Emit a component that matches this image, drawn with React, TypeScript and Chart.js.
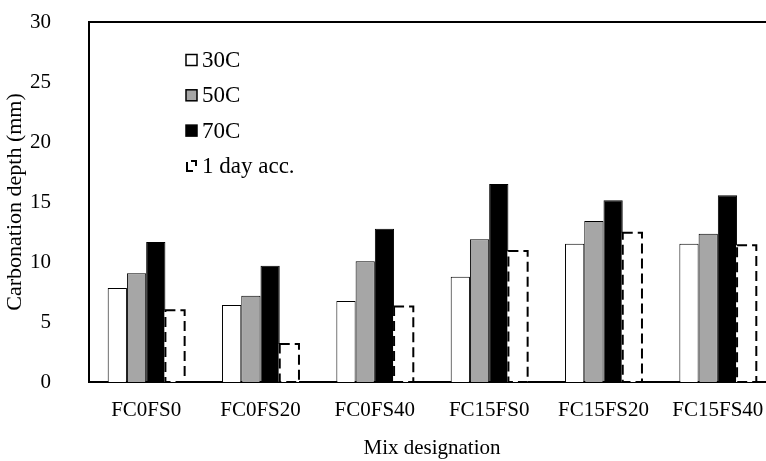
import React, { useEffect, useRef } from "react";
import { Chart, registerables } from "chart.js";

Chart.register(...registerables);

const categories = ["FC0FS0", "FC0FS20", "FC0FS40", "FC15FS0", "FC15FS20", "FC15FS40"];
const seriesLabels = ["30C", "50C", "70C", "1 day acc."];
const values30C = [7.83, 6.42, 6.75, 8.78, 11.53, 11.53];
const values50C = [9.06, 7.19, 10.06, 11.89, 13.42, 12.36];
const values70C = [11.67, 9.69, 12.78, 16.5, 15.14, 15.56];
const values1Day = [5.97, 3.17, 6.3, 10.92, 12.44, 11.39];
const yMin = 0;
const yMax = 30;
const yStep = 5;

const FONT = "'Liberation Serif', 'Times New Roman', serif";

const dashedBarsPlugin = {
  id: "dashedBars",
  afterDatasetsDraw(chart: any) {
    const ctx = chart.ctx;
    const meta = chart.getDatasetMeta(3);
    ctx.save();
    meta.data.forEach((bar: any) => {
      const { x, y, base, width } = bar.getProps(["x", "y", "base", "width"], true);
      const l = x - width / 2;
      const r = x + width / 2;
      ctx.fillStyle = "#ffffff";
      ctx.fillRect(l - 1, y, r - l + 1, base - y);
      ctx.beginPath();
      ctx.setLineDash([10, 5]);
      ctx.lineWidth = 2;
      ctx.strokeStyle = "#000000";
      ctx.moveTo(l, y);
      ctx.lineTo(r, y);
      ctx.lineTo(r, base);
      ctx.lineTo(l, base);
      ctx.closePath();
      ctx.stroke();
    });
    ctx.restore();
  },
};

const legendPlugin = {
  id: "customLegend",
  afterDraw(chart: any) {
    const ctx = chart.ctx;
    const area = chart.chartArea;
    const bx = area.left + 97;
    const y0 = area.top + 38;
    const gap = 35.3;
    ctx.save();
    ctx.font = "23px " + FONT;
    ctx.textBaseline = "middle";
    ctx.textAlign = "left";
    chart.data.datasets.forEach((ds: any, i: number) => {
      const cy = y0 + i * gap;
      const s = 11;
      if (i < 3) {
        ctx.fillStyle = ds.backgroundColor;
        ctx.fillRect(bx, cy - s / 2, s, s);
        ctx.lineWidth = 1.5;
        ctx.strokeStyle = "#000";
        ctx.strokeRect(bx, cy - s / 2, s, s);
      } else {
        ctx.lineWidth = 2;
        ctx.strokeStyle = "#000";
        ctx.beginPath();
        ctx.moveTo(bx + 1, cy - 4);
        ctx.lineTo(bx + 1, cy + 5);
        ctx.lineTo(bx + 7, cy + 5);
        ctx.moveTo(bx + 5, cy - 5);
        ctx.lineTo(bx + 10, cy - 5);
        ctx.lineTo(bx + 10, cy);
        ctx.stroke();
      }
      ctx.fillStyle = "#000";
      ctx.fillText(ds.label, bx + 16, cy + 1);
    });
    ctx.restore();
  },
};

function App() {
  const ref = useRef<HTMLCanvasElement | null>(null);
  useEffect(() => {
    if (!ref.current) return;
    const chart = new Chart(ref.current, {
      type: "bar",
      data: {
        labels: categories,
        datasets: [
          { label: seriesLabels[0], data: values30C, backgroundColor: "#ffffff", borderColor: "#000000", borderWidth: 1 },
          { label: seriesLabels[1], data: values50C, backgroundColor: "#a6a6a6", borderColor: "#000000", borderWidth: 1 },
          { label: seriesLabels[2], data: values70C, backgroundColor: "#000000", borderColor: "#000000", borderWidth: 1 },
          { label: seriesLabels[3], data: values1Day, backgroundColor: "#ffffff", borderColor: "#000000", borderWidth: 0 },
        ],
      },
      options: {
        animation: false,
        responsive: false,
        devicePixelRatio: 1,
        layout: { padding: { top: 22, right: 25, bottom: 0, left: 0 } },
        datasets: { bar: { categoryPercentage: 0.673, barPercentage: 1 } },
        plugins: { legend: { display: false }, tooltip: { enabled: false } },
        scales: {
          x: {
            grid: { display: false, drawTicks: false },
            border: { display: true, color: "#000", width: 2 },
            ticks: { color: "#000", font: { family: FONT, size: 21 }, padding: 16, maxRotation: 0, autoSkip: false },
            title: { display: true, text: "Mix designation", color: "#000", font: { family: FONT, size: 21 }, padding: { top: 0, bottom: 0 } },
            afterFit: (s: any) => { s.height = 79; s.paddingLeft = 0; s.paddingRight = 0; },
          },
          y: {
            min: yMin,
            max: yMax,
            grid: { display: false, drawTicks: false },
            border: { display: true, color: "#000", width: 2 },
            ticks: { stepSize: yStep, color: "#000", font: { family: FONT, size: 21 }, padding: 38 },
            title: { display: true, text: "Carbonation depth (mm)", color: "#000", font: { family: FONT, size: 22 }, padding: { top: 2, bottom: 0 } },
            afterFit: (s: any) => { s.width = 89; s.paddingTop = 0; s.paddingBottom = 0; },
          },
        },
      } as any,
      plugins: [
        {
          id: "topBorder",
          afterDraw(chart: any) {
            const { ctx, chartArea } = chart;
            ctx.save();
            ctx.strokeStyle = "#000";
            ctx.lineWidth = 2;
            ctx.beginPath();
            ctx.moveTo(chartArea.left, chartArea.top);
            ctx.lineTo(chartArea.right, chartArea.top);
            ctx.stroke();
            ctx.restore();
          },
        },
        dashedBarsPlugin,
        legendPlugin,
      ],
    });
    return () => chart.destroy();
  }, []);
  return (
    <div style={{ position: "fixed", left: 0, top: 0, width: 766, height: 461, overflow: "hidden", background: "#fff" }}>
      <canvas ref={ref} width={800} height={461} style={{ display: "block" }} />
    </div>
  );
}

export default App;
